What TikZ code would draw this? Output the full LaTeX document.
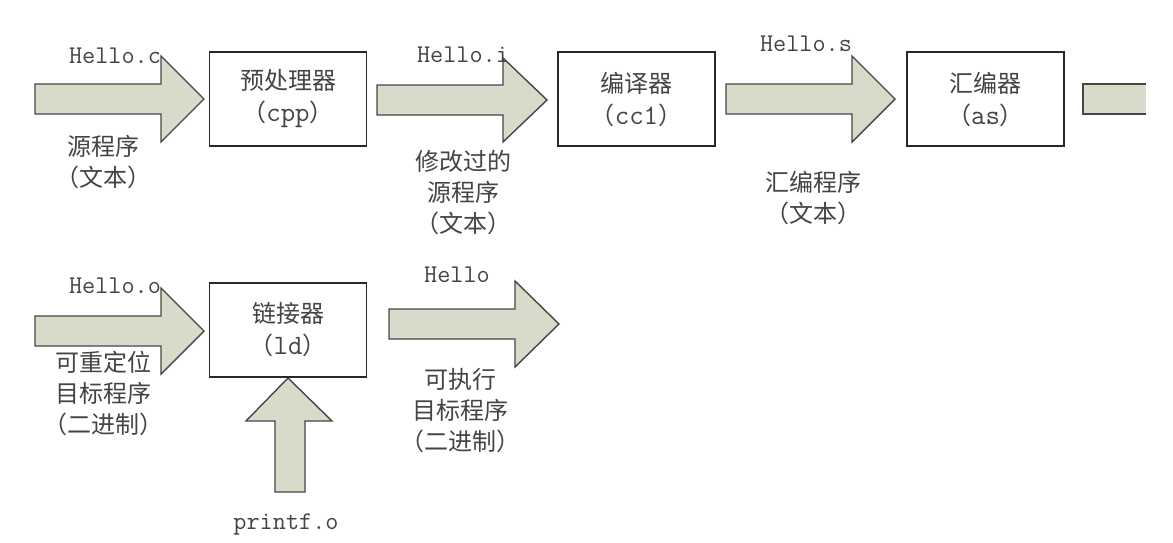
\documentclass[tikz,border=0pt]{standalone}
\usepackage{fontspec}
\setmonofont{Latin Modern Mono}
\newfontfamily\cjk{Noto Sans CJK SC}
\definecolor{arrowfill}{RGB}{216,219,201}
\definecolor{arrowline}{RGB}{70,70,70}
\definecolor{boxline}{RGB}{40,40,40}
\definecolor{txt}{RGB}{68,68,68}
\newcommand{\harrowshape}[6]{%
  \draw[barrow] (#1,#4-#5) -- (#2,#4-#5) -- (#2,#4-#6) -- (#3,#4) -- (#2,#4+#6) -- (#2,#4+#5) -- (#1,#4+#5) -- cycle;}
\newcommand{\boxlat}[1]{{\ttfamily\fontsize{28}{32}\selectfont #1}}
\tikzset{
  box/.style={draw=boxline, line width=1.4pt, fill=white, minimum width=157pt, minimum height=94pt,
    inner sep=0pt, align=center, text=txt, font=\cjk\fontsize{24}{32}\selectfont},
  lbl/.style={text=txt, align=center, inner sep=0pt, font=\cjk\fontsize{24}{31}\selectfont},
  fname/.style={text=txt, inner sep=0pt, font=\ttfamily\fontsize{25.5}{30}\selectfont},
  barrow/.style={fill=arrowfill, draw=arrowline, line width=1.4pt, line join=miter},
}
\begin{document}
\begin{tikzpicture}[x=1pt,y=-1pt]
\useasboundingbox[fill=white] (0,0) rectangle (1173,542);
% boxes
\node[box] (cpp) at (288,99) {预处理器\\（\boxlat{cpp}）};
\node[box] (cc) at (636.5,99) {编译器\\（\boxlat{cc1}）};
\node[box] (as) at (985.5,99) {汇编器\\（\boxlat{as}）};
\node[box] (ld) at (288,330) {链接器\\（\boxlat{ld}）};
% block arrows, top row
\harrowshape{35}{161}{204}{99}{15}{43}
\harrowshape{377}{503}{547}{100}{15}{42}
\harrowshape{726}{852}{895}{99}{15}{43}
% partial arrow at right edge
\fill[arrowfill] (1083,84) rectangle (1146,114);
\draw[arrowline, line width=1.4pt] (1146,84) -- (1083,84) -- (1083,114) -- (1146,114);
% bottom row
\harrowshape{35}{161}{204}{331}{15}{43}
\harrowshape{389}{515}{559}{324}{15}{43}
% vertical arrow into linker
\draw[barrow] (275,492) -- (275,421) -- (246,421) -- (288,378) -- (332,421) -- (305,421) -- (305,492) -- cycle;
% file names
\node[fname] (fc) at (115,56) {Hello.c};
\node[fname] (fi) at (463,55) {Hello.i};
\node[fname] (fs) at (806,44) {Hello.s};
\node[fname] (fo) at (115,286) {Hello.o};
\node[fname] (fh) at (457,275) {Hello};
\node[fname] (fp) at (286,524) {printf.o};
% descriptions
\node[lbl] (d1) at (103,162) {源程序\\（文本）};
\node[lbl] (d2) at (463,193) {修改过的\\源程序\\（文本）};
\node[lbl] (d3) at (813,198) {汇编程序\\（文本）};
\node[lbl] (d4) at (103,393) {可重定位\\目标程序\\（二进制）};
\node[lbl] (d5) at (460,411) {可执行\\目标程序\\（二进制）};
\end{tikzpicture}
\end{document}
